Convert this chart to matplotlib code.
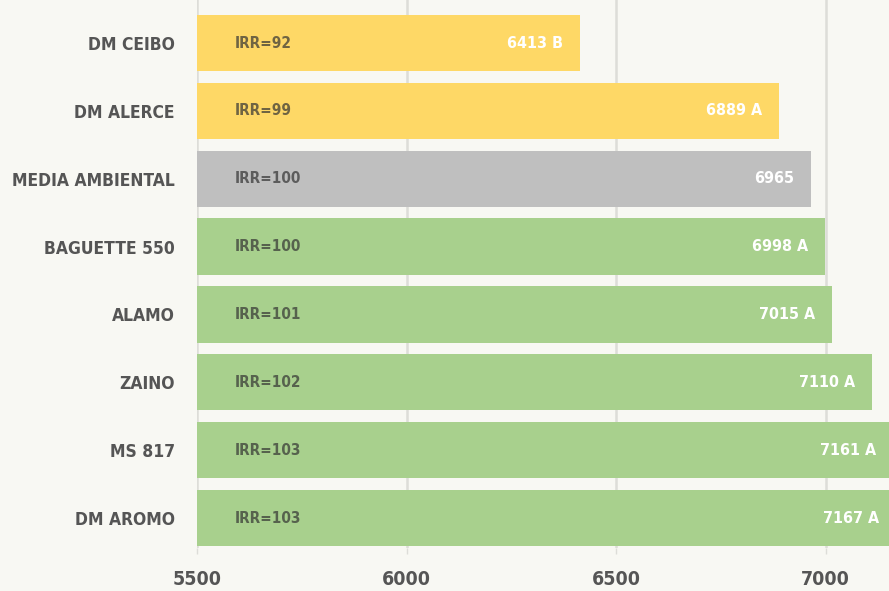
import matplotlib
matplotlib.use('Agg')
import matplotlib.pyplot as plt
from matplotlib import font_manager

categories = ['DM CEIBO', 'DM ALERCE', 'MEDIA AMBIENTAL', 'BAGUETTE 550',
              'ALAMO', 'ZAINO', 'MS 817', 'DM AROMO']
values = [6413, 6889, 6965, 6998, 7015, 7110, 7161, 7167]
letters = ['B', 'A', '', 'A', 'A', 'A', 'A', 'A']
irr = [92, 99, 100, 100, 101, 102, 103, 103]
groups = ['dm', 'dm', 'mean', 'other', 'other', 'other', 'other', 'other']
xticks = [5500, 6000, 6500, 7000]

BG = '#F8F8F3'
COLORS = {'dm': '#FED866', 'mean': '#BFBFBF', 'other': '#A8D08D'}
INK = '#555555'

STRETCH_SCORE = {'condensed': 12, 'extra-condensed': 11, 'semi-condensed': 10,
                 'ultra-condensed': 9}


def pick_font():
    # prefer a bold, fully condensed face
    best, score = None, -1
    for f in font_manager.fontManager.ttflist:
        st = str(f.stretch).lower()
        name = f.name.lower()
        s = STRETCH_SCORE.get(st, 0)
        if s == 0 and ('condensed' in name or 'narrow' in name):
            s = 8
        if s == 0:
            continue
        w = f.weight if isinstance(f.weight, int) else 400
        s += {700: 5, 600: 4, 800: 3, 900: 2}.get(w, 0)
        if s > score:
            best, score = f, s
    if best is not None:
        return font_manager.FontProperties(fname=best.fname)
    return font_manager.FontProperties(family='DejaVu Sans', weight='bold')


FP = pick_font()

fig = plt.figure(figsize=(8.89, 5.91), dpi=100, facecolor=BG)
ax = fig.add_axes([197 / 889, 1 - 548 / 591, 1 - 197 / 889, 548 / 591])
ax.set_facecolor(BG)

ypos = list(range(len(categories)))
ax.barh(ypos, [v - 5500 for v in values], left=5500, height=0.83,
        color=[COLORS[g] for g in groups], zorder=2)

for y, v, l, r in zip(ypos, values, letters, irr):
    ax.text(5590, y, f'IRR={r}', ha='left', va='center', fontproperties=FP,
            fontsize=11, color='#333333', alpha=0.7, zorder=3)
    ax.annotate(f'{v} {l}'.strip(), (v, y), xytext=(-12, 0),
                textcoords='offset points', ha='right', va='center',
                fontproperties=FP, fontsize=11.5, color='white', zorder=3,
                annotation_clip=False)

ax.set_xlim(5500, 7151)
ax.set_ylim(7.442, -0.634)
ax.set_xticks(xticks)
ax.set_xticklabels([str(t) for t in xticks], fontproperties=FP, fontsize=14)
ax.set_yticks(ypos)
ax.set_yticklabels(categories, fontproperties=FP, fontsize=12.5)
ax.xaxis.grid(True, color='#DDDDD8', lw=1.8, zorder=0)
ax.tick_params(axis='y', length=0, pad=16, labelcolor=INK)
ax.tick_params(axis='x', length=4, width=1, color='#DDDDD8', pad=12,
               labelcolor=INK)
for s in ax.spines.values():
    s.set_visible(False)

fig.savefig('out.png', dpi=100, facecolor=BG)
